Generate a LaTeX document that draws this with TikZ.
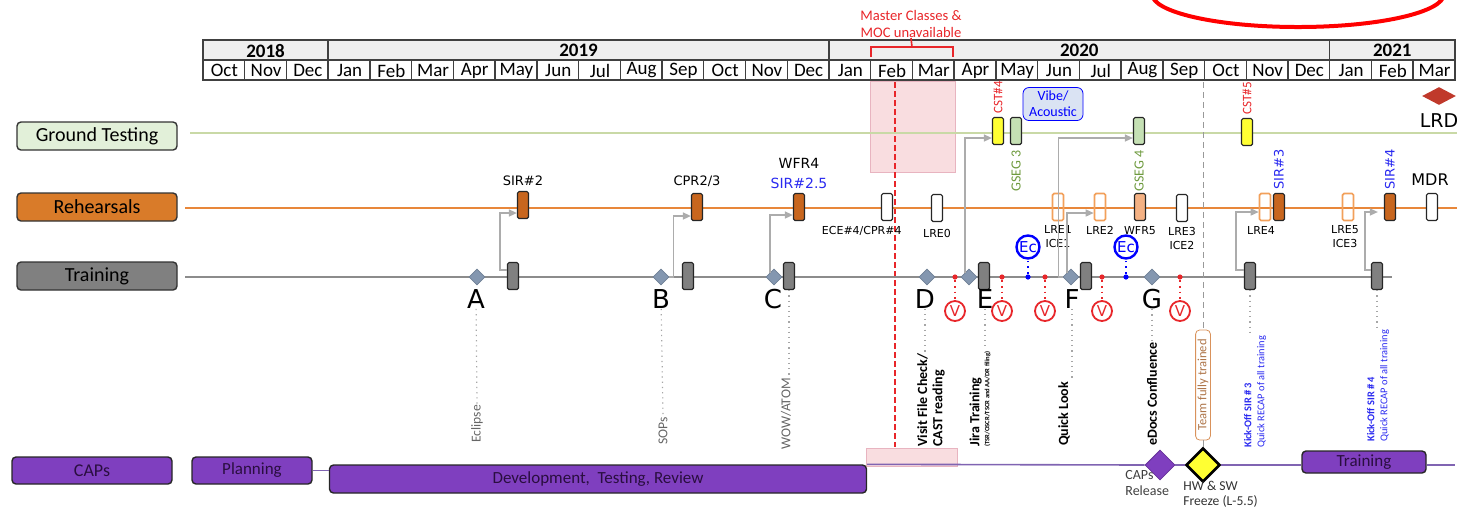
\documentclass[tikz,border=0pt]{standalone}
\usepackage{fontspec}
\setmainfont{Carlito}
\newfontfamily\dvs{DejaVu Sans}
\usetikzlibrary{shapes.geometric, arrows.meta, positioning, calc}
\definecolor{HdrGray}{HTML}{EFEFEF}
\definecolor{GtFill}{HTML}{E2F0D9}
\definecolor{GtLine}{HTML}{C9D9A6}
\definecolor{RhFill}{HTML}{D97B29}
\definecolor{RhLine}{HTML}{E8873A}
\definecolor{TrFill}{HTML}{808080}
\definecolor{TrLine}{HTML}{8C8C8C}
\definecolor{CapFill}{HTML}{7F3FBF}
\definecolor{CapLine}{HTML}{8064B2}
\definecolor{CapText}{HTML}{2A0E40}
\definecolor{MsGray}{HTML}{8497B0}
\definecolor{EvOrange}{HTML}{C8661E}
\definecolor{LreOrange}{HTML}{F2A05A}
\definecolor{WfrFill}{HTML}{F4B183}
\definecolor{GsegFill}{HTML}{C5E0B4}
\definecolor{GsegText}{HTML}{6E9A3E}
\definecolor{CstYellow}{HTML}{FFFF33}
\definecolor{VibeFill}{HTML}{DAE3F3}
\definecolor{KickBlue}{HTML}{2A2AF0}
\definecolor{PinkFill}{HTML}{F9DDE0}
\definecolor{PinkDraw}{HTML}{E8B4C0}
\definecolor{LrdRed}{HTML}{C0392B}
\definecolor{MarkRed}{HTML}{E8262A}
\definecolor{RingRed}{HTML}{FF0000}
\definecolor{TeamOrange}{HTML}{D9925B}

\begin{document}
\begin{tikzpicture}[x=0.5pt, y=-0.5pt,
    hdr/.style={draw=black!75, line width=0.7pt},
    yr/.style={font=\bfseries\fontsize{9.5}{10}\selectfont, inner sep=0pt},
    mon/.style={font=\fontsize{9.5}{10}\selectfont, inner sep=0pt},
    lane/.style={draw=black!80, rounded corners=2pt, minimum width=80pt, minimum height=14pt,
                 inner sep=0pt, line width=0.7pt, font=\fontsize{10}{12}\selectfont},
    capbox/.style={draw=black!85, fill=CapFill, rounded corners=2pt, minimum height=13.5pt,
                   inner sep=0pt, line width=0.7pt, text=CapText, font=\fontsize{9}{11}\selectfont},
    evt/.style={draw=black!85, rounded corners=0.8pt, minimum width=5.5pt, minimum height=13.5pt,
                inner sep=0pt, line width=0.6pt},
    lreb/.style={evt, draw=LreOrange, line width=0.8pt},
    ms/.style={diamond, fill=MsGray, draw=MsGray!85!black, line width=0.3pt, minimum size=8pt, inner sep=0pt},
    ltr/.style={font=\dvs\fontsize{13}{14}\selectfont, inner sep=0pt},
    evl/.style={font=\dvs\fontsize{6.5}{7.5}\selectfont, inner sep=0.5pt, align=center},
    sml/.style={font=\dvs\fontsize{5.5}{7}\selectfont, inner sep=0.5pt, align=center},
    rot/.style={rotate=90, inner sep=0.5pt},
    link/.style={draw=gray!65, line width=0.7pt, -{Triangle[length=4pt,width=3.5pt]}},
    drop/.style={draw=gray!70, line width=0.6pt, dotted},
    dot/.style={circle, inner sep=0pt, minimum size=2.6pt},
    vcirc/.style={circle, draw=MarkRed, line width=0.9pt, fill=white, inner sep=0pt, minimum size=10pt,
                  text=MarkRed, font=\dvs\fontsize{7.5}{8}\selectfont},
    eccirc/.style={circle, draw=blue, line width=1.2pt, fill=white, inner sep=0pt, minimum size=11.5pt,
                   text=blue, font=\dvs\fontsize{7.5}{8}\selectfont},
    vline/.style={draw=MarkRed, line width=0.9pt, dotted}
  ]
  \useasboundingbox (0,0) rectangle (1463,511);

  % red highlight ring, cut by the top edge
  \begin{scope}
    \clip (0,0) rectangle (1463,511);
    \draw[RingRed, line width=2pt] (1298,-6) ellipse [x radius=73pt, y radius=16.5pt];
  \end{scope}

  % timeline header
  \foreach \a/\b/\yy in {0/3/2018,3/15/2019,15/27/2020,27/30/2021} {
    \draw[hdr, fill=HdrGray] ({203+41.73*\a},40) rectangle ({203+41.73*\b},60);
    \node[yr] (yr\yy) at ({203+41.73*(\a+\b)/2},50.5) {\yy};
  }
  \foreach \m [count=\i from 0] in {Oct,Nov,Dec,Jan,Feb,Mar,Apr,May,Jun,Jul,Aug,Sep,Oct,Nov,Dec,
                                     Jan,Feb,Mar,Apr,May,Jun,Jul,Aug,Sep,Oct,Nov,Dec,Jan,Feb,Mar} {
    \draw[hdr] ({203+41.73*\i},60) rectangle ({244.73+41.73*\i},80);
    \node[mon] (mo\i) at ({224.4+41.73*\i},70.5) {\m};
  }

  % master classes window
  \node[text=MarkRed, align=center, inner sep=0pt, font=\fontsize{7.3}{8.5}\selectfont] (mcls) at (911,24) {Master Classes \&\\MOC unavailable};
  \draw[MarkRed, line width=0.8pt] (871,57) -- (871,47) -- (953,47) -- (953,57);
  \draw[MarkRed, line width=0.8pt] (912,47) -- (mcls.south);
  \fill[PinkFill] (870,81) rectangle (955,172);
  \draw[PinkDraw, line width=0.4pt] (870,81) rectangle (955,172);
  \fill[PinkFill] (866,448) rectangle (957,466);
  \draw[PinkDraw, line width=0.4pt] (866,448) rectangle (957,466);
  \draw[MarkRed, line width=1pt, dash pattern=on 3pt off 1.5pt] (895,82) -- (895,447);

  % lanes
  \node[lane, fill=GtFill] (gt) at (97,136) {Ground Testing};
  \node[lane, fill=RhFill] (rh) at (97,207) {Rehearsals};
  \node[lane, fill=TrFill] (tr) at (97,276) {Training};
  \draw[GtLine, line width=0.9pt] (190,133) -- (1457,133);
  \draw[RhLine, line width=1pt] (185,208) -- (1457,208);
  \draw[TrLine, line width=1pt] (185,277) -- (1392,277);

  % team fully trained marker
  \node[rot, draw=TeamOrange, fill=white, rounded corners=2pt, text=TeamOrange!80!black, minimum width=55pt,
        minimum height=7pt, inner sep=1pt, font=\fontsize{6.3}{7}\selectfont] (team) at (1203,385) {Team fully trained};

  % ground testing
  \node[evt, fill=CstYellow] (cst4) at (998,131) {};
  \node[evt, fill=GsegFill] (gseg3) at (1016,131) {};
  \node[evt, fill=GsegFill] (gseg4) at (1139,131) {};
  \node[evt, fill=CstYellow] (cst5) at (1247,132) {};
  \node[rot, anchor=west, text=MarkRed, font=\fontsize{6.5}{7}\selectfont] at ([yshift=1pt]cst4.north) {CST\#4};
  \node[rot, anchor=west, text=MarkRed, font=\fontsize{6.5}{7}\selectfont] at ([yshift=1pt]cst5.north) {CST\#5};
  \node[rot, anchor=east, text=GsegText, font=\fontsize{7}{8}\selectfont] at ([yshift=-2pt]gseg3.south) {GSEG 3};
  \node[rot, anchor=east, text=GsegText, font=\fontsize{7}{8}\selectfont] at ([yshift=-2pt]gseg4.south) {GSEG 4};
  \node[draw=blue, fill=VibeFill, rounded corners=3pt, minimum width=30pt, minimum height=16.5pt, inner sep=0pt,
        text=blue, align=center, font=\fontsize{7}{8}\selectfont] (vibe) at (1053,104) {Vibe/\\Acoustic};
  \node[diamond, aspect=2, fill=LrdRed, minimum width=17pt, minimum height=9pt, inner sep=0pt] (lrd) at (1439,96) {};
  \node[font=\dvs\fontsize{9.5}{10}\selectfont, inner sep=0pt, below=4pt of lrd] (lrdl) {LRD};

  % rehearsals
  \node[evt, fill=EvOrange] (sir2) at (523,205) {};
  \node[evt, fill=EvOrange] (cpr) at (697,207) {};
  \node[evt, fill=EvOrange] (wfr4) at (799,207) {};
  \node[evt, fill=white] (ece) at (887,207) {};
  \node[evt, fill=white] (lre0) at (937,208) {};
  \node[lreb] (lre1) at (1058,207) {};
  \node[lreb] (lre2) at (1100,207) {};
  \node[evt, fill=WfrFill] (wfr5) at (1140,207) {};
  \node[evt, fill=white] (lre3) at (1182,208) {};
  \node[lreb] (lre4) at (1265,207) {};
  \node[evt, fill=EvOrange] (sir3) at (1279,207) {};
  \node[lreb] (lre5) at (1348,207) {};
  \node[evt, fill=EvOrange] (sir4) at (1390,207) {};
  \node[evt, fill=white] (mdr) at (1432,207) {};

  \node[evl, above=2pt of sir2] {SIR\#2};
  \node[evl, above=2.5pt of cpr] {CPR2/3};
  \node[evl, font=\dvs\fontsize{7}{10}\selectfont, above=1.5pt of wfr4] {WFR4\\\textcolor{KickBlue}{SIR\#2.5}};
  \node[evl, font=\dvs\fontsize{8}{9}\selectfont, above=3pt of mdr, xshift=-1pt] {MDR};
  \node[rot, anchor=west, text=KickBlue, font=\dvs\fontsize{6.5}{7}\selectfont] at ([yshift=1pt]sir3.north) {SIR\#3};
  \node[rot, anchor=west, text=KickBlue, font=\dvs\fontsize{6.5}{7}\selectfont] at ([yshift=1pt]sir4.north) {SIR\#4};
  \node[sml, anchor=north east] at ([xshift=8pt,yshift=-2pt]ece.south) {ECE\#4/CPR\#4};
  \node[sml, below=3pt of lre0] {LRE0};
  \node[sml, below=1.5pt of lre1] {LRE1\\ICE1};
  \node[sml, below=2pt of lre2] {LRE2};
  \node[sml, below=2pt of wfr5] {WFR5};
  \node[sml, below=2pt of lre3] {LRE3\\ICE2};
  \node[sml, below=2pt of lre4, xshift=-2pt] {LRE4};
  \node[sml, below=1.5pt of lre5, xshift=-1.5pt] {LRE5\\ICE3};

  % training
  \foreach \n/\x in {A/513,B/688,C/789,E/984,F/1086,K3/1250,K4/1377}
    \node[evt, fill=TrFill] (t\n) at (\x,276) {};
  \foreach \n/\x in {A/477,B/661,C/774,D/927,E/969,F/1071,G/1152}
    \node[ms] (m\n) at (\x,277) {};
  \foreach \n/\x in {A/476,B/661,C/773,D/925,E/985,F/1072,G/1152}
    \node[ltr] (l\n) at (\x,299) {\n};

  % verification and Ec checkpoints
  \foreach \x [count=\k] in {955,1002,1045,1102,1180} {
    \node[dot, fill=MarkRed] (vd\k) at (\x,277) {};
    \node[vcirc] (v\k) at (\x,311) {V};
    \draw[vline] (vd\k) -- (v\k);
  }
  \foreach \x [count=\k] in {1028,1126} {
    \node[dot, fill=blue] (ed\k) at (\x,277) {};
    \node[eccirc] (ec\k) at (\x,247) {Ec};
    \draw[draw=blue, line width=0.9pt, dotted] (ed\k) -- (ec\k);
  }

  % feeds between lanes
  \draw[link] ([yshift=3pt]tA.west) -- ++(-3.5pt,0) |- ([yshift=-4pt]sir2.west);
  \draw[link] (mB.east) -- ++(2pt,0) |- ([yshift=-4.5pt]cpr.west);
  \draw[link] (mC.north west) |- ([yshift=-4pt]wfr4.west);
  \draw[link] (mE.north west) |- ([yshift=-3.5pt]cst4.west);
  \draw[link] (mF.west) -- ++(-2pt,0) |- ([yshift=-3.5pt]gseg4.west);
  \draw[link] (mF.north west) |- ([yshift=-3pt]lre2.west);
  \draw[link] ([yshift=3pt]tK3.west) -- ++(-4pt,0) |- ([yshift=-2.5pt]lre4.west);
  \draw[link] ([yshift=3pt]tK4.west) -- ++(-3pt,0) |- ([yshift=-2.5pt,xshift=-3pt]sir4.west);

  % training topics
  \node[rot, anchor=west, text=gray!80!black, font=\fontsize{6.8}{8}\selectfont] (ecl) at (477,444) {Eclipse};
  \node[rot, anchor=west, text=gray!80!black, font=\fontsize{6.8}{8}\selectfont] (sops) at (663,446) {SOPs};
  \node[rot, anchor=west, text=gray!80!black, font=\fontsize{6.8}{8}\selectfont] (wow) at (786,451) {WOW/ATOM};
  \node[rot, anchor=west, align=left, font=\bfseries\fontsize{7}{7.6}\selectfont] (visit) at (931,448) {Visit File Check/\\CAST reading};
  \node[rot, anchor=west, align=left, font=\bfseries\fontsize{7}{5}\selectfont] (jira) at (980,448)
       {Jira Training\\{\fontsize{3.3}{4}\selectfont (TSR/OSCR/TSCR and AA/DR filing)}};
  \node[rot, anchor=west, font=\bfseries\fontsize{7}{8}\selectfont] (quick) at (1064,447) {Quick Look};
  \node[rot, anchor=west, font=\bfseries\fontsize{7}{8}\selectfont] (edocs) at (1152,447) {eDocs Confluence};
  \node[rot, anchor=west, align=left, text=KickBlue, font=\fontsize{5.2}{6.5}\selectfont] (kick3) at (1255,449)
       {\textbf{Kick-Off SIR \# 3}\\Quick RECAP of all training};
  \node[rot, anchor=west, align=left, text=KickBlue, font=\fontsize{5.2}{6.5}\selectfont] (kick4) at (1378,443)
       {\textbf{Kick-Off SIR \# 4}\\Quick RECAP of all training};
  \draw[drop] (lA) -- (ecl.east);
  \draw[drop] (lB) -- (sops.east);
  \draw[drop] (tC.south) -- (tC.south |- wow.east);
  \draw[drop] (lD) -- (lD |- visit.east);
  \draw[drop] (lE) -- (lE |- jira.east);
  \draw[drop] (lF.south) -- (lF.south |- quick.east);
  \draw[drop] (lG) -- (edocs.east);
  \draw[drop] (tK3) -- (tK3 |- kick3.east);
  \draw[drop] (tK4) -- (tK4 |- kick4.east);

  % CAPs lane
  \node[capbox, minimum width=80pt] (caps) at (92,470.5) {CAPs};
  \node[capbox, minimum width=60pt, font=\fontsize{8.5}{10}\selectfont] (plan) at (252,470.5) {Planning};
  \node[capbox, minimum width=268.5pt, minimum height=14pt, font=\fontsize{8.5}{10}\selectfont] (dev) at (598,479) {Development,\ \ Testing, Review};
  \node[capbox, minimum width=62pt, minimum height=11pt, font=\fontsize{8.5}{10}\selectfont] (trbar) at (1364,462) {Training};
  \node[diamond, fill=CapFill, draw=CapFill!80!black, minimum size=15pt, inner sep=0pt] (caprel) at (1160,465) {};
  \node[diamond, fill=CstYellow, draw=black, line width=1.3pt, minimum size=17pt, inner sep=0pt] (hw) at (1203,465) {};
  \coordinate (capend) at (1455,465);
  \draw[CapLine, line width=0.8pt] (plan.east) -- (plan.east -| dev.west);
  \draw[CapLine, line width=0.8pt] (dev.north east) -- (caprel.west);
  \draw[CapLine, line width=0.8pt] (caprel.east) -- (hw.west);
  \draw[CapLine, line width=0.8pt] (hw.east) -- (trbar.west |- hw.east);
  \draw[CapLine, line width=0.8pt] (trbar.east |- hw.east) -- (capend);
  \node[anchor=north west, align=left, inner sep=0pt, text=black!75, font=\fontsize{7}{8}\selectfont] (caprell) at (1125,470) {CAPs\\Release};
  \node[anchor=north west, align=left, inner sep=0pt, text=black!80, font=\fontsize{6.8}{7.5}\selectfont] (hwl) at (1183,481) {HW \& SW\\Freeze (L-5.5)};

  % team fully trained guide
  \draw[gray!80, line width=0.5pt, dash pattern=on 3pt off 2pt] (1203,82) -- (team.east);
  \draw[gray!80, line width=0.5pt] (team.west) -- (hw.north);
\end{tikzpicture}
\end{document}
